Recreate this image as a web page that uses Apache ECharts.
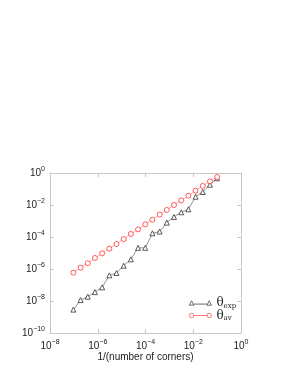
<!DOCTYPE html>
<html><head><meta charset="utf-8">
<script src="https://cdn.jsdelivr.net/npm/echarts@6/dist/echarts.min.js"></script>
<style>html,body{margin:0;padding:0;background:#fff}#c{width:291px;height:376px}</style>
</head><body><div id="c"></div>
<script>
// x = 1/(number of corners)
const xValues = [9.54e-8, 1.91e-7, 3.81e-7, 7.63e-7, 1.53e-6, 3.05e-6, 6.10e-6, 1.22e-5, 2.44e-5, 4.88e-5, 9.77e-5, 1.95e-4, 3.91e-4, 7.81e-4, 1.56e-3, 3.13e-3, 6.25e-3, 1.25e-2, 2.5e-2, 5e-2, 0.1];
const thetaExp = [2.9e-9, 1.15e-8, 1.86e-8, 3.6e-8, 7.1e-8, 4.0e-7, 5.6e-7, 1.6e-6, 4.0e-6, 2.1e-5, 2.1e-5, 1.7e-4, 2.2e-4, 7.9e-4, 1.8e-3, 3.5e-3, 5.4e-3, 3.3e-2, 6.5e-2, 0.186, 0.47];
const thetaAv = [5.9e-7, 1.2e-6, 2.3e-6, 4.9e-6, 9.5e-6, 1.86e-5, 3.6e-5, 7.4e-5, 1.55e-4, 3.0e-4, 6.2e-4, 1.2e-3, 2.5e-3, 4.9e-3, 1.0e-2, 1.95e-2, 3.8e-2, 7.9e-2, 0.155, 0.30, 0.56];
const xTickExps = [-8, -6, -4, -2, 0];
const yTickExps = [-10, -8, -6, -4, -2, 0];
const seriesNames = ['exp', 'av'];
const xTitle = '1/(number of corners)';

const chart = echarts.init(document.getElementById('c'));
const font = 'Liberation Sans, Arial, sans-serif';
function fmt(v) {
  const e = Math.round(Math.log10(v));
  return '{b|10}{s|' + (e < 0 ? '\u2212' + (-e) : e) + '}';
}
const rich = {
  b: {fontSize: 10, fontFamily: font, color: '#222'},
  s: {fontSize: 7, fontFamily: font, color: '#222', padding: [0, 0, 7, 0]}
};
const axisCommon = {
  type: 'log', logBase: 10,
  axisLine: {lineStyle: {color: '#c8c8c8', width: 1}},
  axisTick: {inside: true, length: 4, lineStyle: {color: '#c8c8c8'}},
  splitLine: {show: false},
  minorTick: {show: false}
};
const triPath = 'path://M0,9L4,1L8,9ZM8,7L32,7M32,9L36,1L40,9Z';
const cirPath = 'path://M0,5A4,4 0 1,1 8,5A4,4 0 1,1 0,5ZM8,5L32,5M32,5A4,4 0 1,1 40,5A4,4 0 1,1 32,5Z';
chart.setOption({
  animation: false,
  grid: {left: 50, top: 173, width: 191, height: 160},
  xAxis: [
    Object.assign({}, axisCommon, {min: 1e-8, max: 1, interval: 2, position: 'bottom',
      axisLabel: {formatter: fmt, rich: rich, margin: 6},
      name: xTitle, nameLocation: 'middle', nameGap: 15,
      nameTextStyle: {fontSize: 10, fontFamily: font, color: '#222'}}),
    Object.assign({}, axisCommon, {min: 1e-8, max: 1, interval: 2, position: 'top', axisLabel: {show: false}})
  ],
  yAxis: [
    Object.assign({}, axisCommon, {min: 1e-10, max: 1, interval: 2, position: 'left',
      axisLabel: {formatter: fmt, rich: rich, margin: 5}}),
    Object.assign({}, axisCommon, {min: 1e-10, max: 1, interval: 2, position: 'right', axisLabel: {show: false}})
  ],
  legend: {
    orient: 'vertical', left: 184, top: 292, itemGap: 0, itemWidth: 22, itemHeight: 6,
    data: [
      {name: seriesNames[0], icon: triPath, itemStyle: {color: 'transparent', borderColor: '#444', borderWidth: 0.8}},
      {name: seriesNames[1], icon: cirPath, itemStyle: {color: 'transparent', borderColor: '#f55', borderWidth: 0.8}}
    ],
    formatter: function (n) { return '{t|\u03b8}{u|' + n + '}'; },
    textStyle: {rich: {
      t: {fontSize: 12, fontFamily: 'DejaVu Serif, serif', color: '#222'},
      u: {fontSize: 7, fontFamily: 'DejaVu Serif, serif', color: '#222', padding: [6, 0, 0, 0]}
    }}
  },
  series: [
    {name: seriesNames[0], type: 'line', data: xValues.map((x, i) => [x, thetaExp[i]]),
      symbol: 'triangle', symbolSize: 5,
      lineStyle: {color: '#777', width: 0.8},
      itemStyle: {color: '#fff', borderColor: '#333', borderWidth: 0.8}},
    {name: seriesNames[1], type: 'line', data: xValues.map((x, i) => [x, thetaAv[i]]),
      symbol: 'circle', symbolSize: 5,
      lineStyle: {color: '#f99', width: 0.8},
      itemStyle: {color: '#fff', borderColor: '#f33', borderWidth: 0.8}}
  ]
});
</script></body></html>
